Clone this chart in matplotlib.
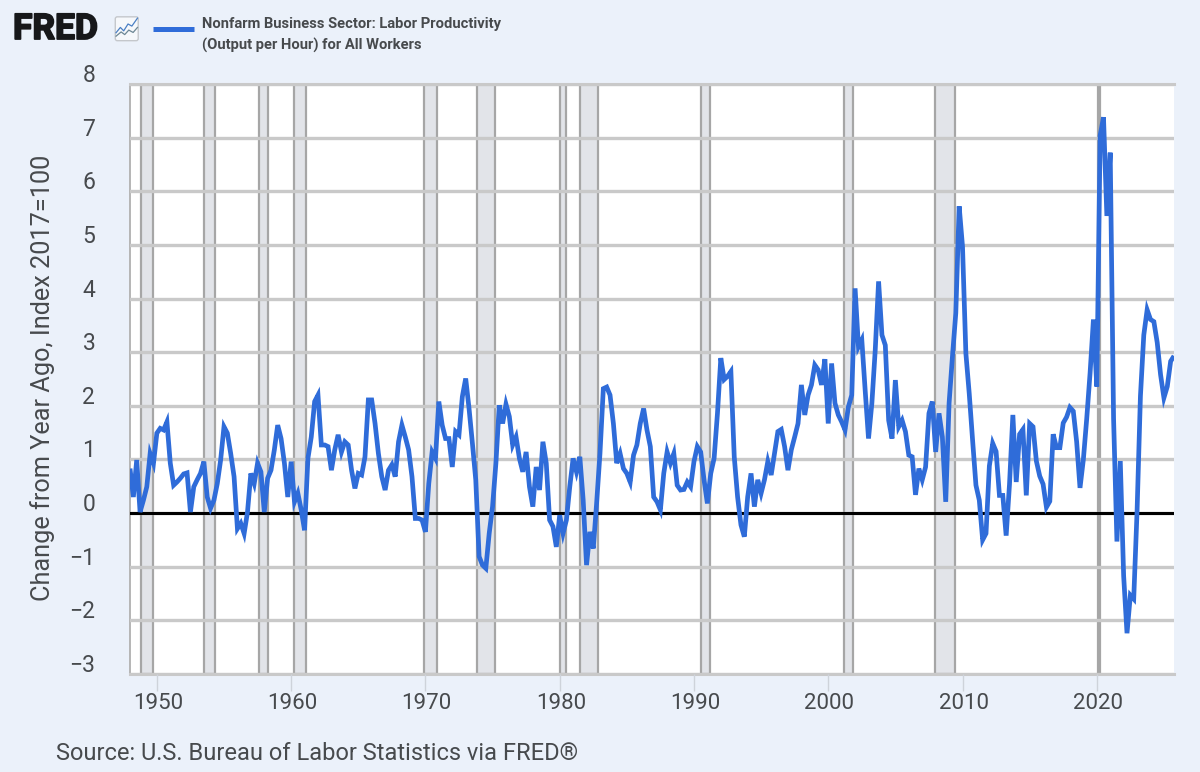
import numpy as np
import matplotlib
matplotlib.use("Agg")
import matplotlib.pyplot as plt
from matplotlib.patches import FancyBboxPatch
from matplotlib.transforms import ScaledTranslation
import matplotlib.patheffects as pe

START_YEAR = 1948

# Percent change from a year ago, one row per year, four quarters per row
productivity = [
    .83, .30, .99, .02,
    .24, .49, 1.11, .93,
    1.49, 1.58, 1.55, 1.70,
    .93, .52, .58, .65,
    .73, .75, .02, .49,
    .62, .74, .96, .30,
    .09, .24, .55, .99,
    1.61, 1.49, 1.11, .68,
    -.29, -.19, -.38, .02,
    .74, .55, .93, .77,
    .02, .65, .80, 1.18,
    1.64, 1.39, .93, .30,
    .96, .21, .37, .06,
    -.32, 1.02, 1.42, 2.08,
    2.20, 1.27, 1.27, 1.24,
    .80, 1.18, 1.46, 1.14,
    1.33, 1.27, .80, .46,
    .74, .71, 1.05, 2.11,
    2.11, 1.67, 1.11, .68,
    .43, .80, .90, .68,
    1.33, 1.64, 1.42, 1.18,
    .68, -.10, -.10, -.13,
    -.35, .55, 1.14, 1.02,
    2.08, 1.64, 1.39, 1.39,
    .86, 1.52, 1.46, 2.17,
    2.51, 1.95, 1.30, .62,
    -.81, -.97, -1.03, -.38,
    .12, .93, 2.01, 1.67,
    2.03, 1.80, 1.27, 1.42,
    1.02, .77, 1.14, .49,
    .12, .86, .43, 1.33,
    .93, -.13, -.25, -.63,
    -.04, -.38, -.13, .49,
    1.02, .77, 1.05, .24,
    -.97, -.35, -.66, .18,
    1.11, 2.32, 2.35, 2.20,
    1.67, .93, 1.11, .83,
    .74, .58, 1.08, 1.27,
    1.67, 1.95, 1.55, 1.24,
    .30, .21, .06, .74,
    1.14, .93, 1.11, .52,
    .43, .44, .58, .49,
    .96, 1.24, 1.14, .62,
    .18, .74, 1.02, 1.86,
    2.89, 2.49, 2.55, 2.64,
    1.05, .30, -.22, -.44,
    .30, .74, .12, .62,
    .37, .62, .96, .71,
    1.11, 1.52, 1.56, 1.24,
    .80, 1.18, 1.42, 1.67,
    2.39, 1.83, 2.20, 2.39,
    2.76, 2.67, 2.39, 2.87,
    1.67, 2.79, 2.05, 1.83,
    1.70, 1.55, 1.98, 2.20,
    4.19, 3.10, 3.23, 2.29,
    1.39, 2.05, 3.04, 4.32,
    3.32, 3.13, 1.73, 1.39,
    2.48, 1.61, 1.73, 1.52,
    1.08, 1.05, .34, .83,
    .62, .86, 1.86, 2.08,
    1.14, 1.86, 1.42, .21,
    2.05, 2.92, 3.73, 5.72,
    4.97, 2.98, 2.23, 1.36,
    .52, .24, -.50, -.38,
    .88, 1.30, 1.15, .33,
    .33, -.42, .54, 1.83,
    .58, 1.47, 1.56, .33,
    1.67, 1.61, .97, .69,
    .54, .11, .22, 1.47,
    1.22, 1.22, 1.68, 1.79,
    1.97, 1.90, 1.33, .47,
    1.00, 1.76, 2.61, 3.61,
    2.36, 7.04, 7.38, 5.54,
    6.72, 1.76, -.53, .97,
    -1.17, -2.24, -1.53, -1.60,
    .04, 2.18, 3.32, 3.79,
    3.61, 3.57, 3.18, 2.58,
    2.15, 2.36, 2.83, 2.93,
]

recession_starts = [1948.83, 1953.50, 1957.58, 1960.25, 1969.92, 1973.83,
                    1980.00, 1981.50, 1990.50, 2001.17, 2007.92, 2020.08]
recession_ends = [1949.75, 1954.33, 1958.25, 1961.08, 1970.83, 1975.17,
                  1980.50, 1982.83, 1991.17, 2001.83, 2009.42, 2020.25]

x_tick_years = [1950, 1960, 1970, 1980, 1990, 2000, 2010, 2020]
y_tick_values = [-3, -2, -1, 0, 1, 2, 3, 4, 5, 6, 7, 8]

series_label = ["Nonfarm Business Sector: Labor Productivity",
                "(Output per Hour) for All Workers"]
y_label = "Change from Year Ago, Index 2017=100"
source_label = "Source: U.S. Bureau of Labor Statistics via FRED®"

PAGE = "#ebf1fa"
TEXT = "#474a4d"
LINE = "#2f6cd9"
GRID = "#c9c9c9"
BAND = "#e2e4e9"
BAND_EDGE = "#a6a6a6"
W, H = 1200, 772

plt.rcParams["font.family"] = ["Roboto", "DejaVu Sans"]

fig = plt.figure(figsize=(W / 100, H / 100), dpi=100, facecolor=PAGE)
ax = fig.add_axes([130 / W, 1 - 674 / H, (1174 - 130) / W, (674 - 84) / H])
ax.set_facecolor("white")

quarters = START_YEAR + np.arange(len(productivity)) / 4
ax.set_xlim(START_YEAR, quarters[-1])
ax.set_ylim(-3, 8)

# Recession shading sits under the grid
for start, end in zip(recession_starts, recession_ends):
    ax.axvspan(start, end, facecolor=BAND, edgecolor=BAND_EDGE, linewidth=1.6, zorder=1)

ax.set_yticks(y_tick_values)
ax.set_xticks(x_tick_years)
ax.grid(axis="y", color=GRID, linewidth=2.4, zorder=2)
ax.set_axisbelow(False)
for line in ax.get_ygridlines():
    line.set_zorder(2)

ax.axhline(0, color="black", linewidth=2.2, zorder=3)
ax.plot(quarters, productivity, color=LINE, linewidth=3.4,
        solid_joinstyle="miter", solid_capstyle="butt", zorder=4)

for side in ("right",):
    ax.spines[side].set_visible(False)
ax.spines["left"].set_color("#b5b5b5")
ax.spines["left"].set_linewidth(1.4)
for side in ("top", "bottom"):
    ax.spines[side].set_color(GRID)
    ax.spines[side].set_linewidth(2.2)

ax.tick_params(axis="y", length=0, pad=25, labelsize=16.5, labelcolor=TEXT)
ax.tick_params(axis="x", length=12, width=1.0, color="#ced3da", pad=2,
               labelsize=16, labelcolor=TEXT)

# The value labels ride a little above their grid lines
raise_labels = ScaledTranslation(0, 11 / 100, fig.dpi_scale_trans)
for label in ax.get_yticklabels():
    label.set_transform(label.get_transform() + raise_labels)
nudge_right = ScaledTranslation(1.2 / 100, 0, fig.dpi_scale_trans)
for label in ax.get_xticklabels():
    label.set_transform(label.get_transform() + nudge_right)

fig.text(43 / W, 1 - 378 / H, y_label, rotation=90, ha="center", va="center",
         fontsize=18.2, color=TEXT)
fig.text(56 / W, 1 - 753 / H, source_label, ha="left", va="center",
         fontsize=17, color=TEXT)

# Legend: line sample and two-line series name
fig.add_artist(plt.Line2D([153 / W, 194 / W], [1 - 29 / H] * 2, color=LINE,
                          linewidth=3.6, solid_capstyle="butt"))
for row, text in enumerate(series_label):
    fig.text(202 / W, 1 - (24 + 21 * row) / H, text, ha="left", va="center",
             fontsize=10.6, fontweight="bold", color=TEXT)

# Wordmark
fig.text(13 / W, 1 - 29.5 / H, "FRED", ha="left", va="center", fontsize=25.5,
         fontweight="bold", color="#17181a",
         path_effects=[pe.withStroke(linewidth=1.3, foreground="#17181a")])

# Small chart icon beside the wordmark
icon = fig.add_axes([114 / W, 1 - 42 / H, 25.5 / W, 26.5 / H])
icon.set_xlim(0, 1)
icon.set_ylim(0, 1)
icon.axis("off")
icon.add_patch(FancyBboxPatch((0.05, 0.05), 0.9, 0.9, boxstyle="round,pad=0,rounding_size=0.08",
                              facecolor="#f6f8fb", edgecolor="#c4c7cb", linewidth=1.0))
icon.plot([.08, .25, .38, .55, .70, .92], [.35, .55, .42, .68, .60, .90],
          color="#4a7fc4", linewidth=0.9)
icon.plot([.08, .28, .42, .58, .75, .92], [.22, .38, .28, .45, .36, .55],
          color="#6d8794", linewidth=0.9)

fig.savefig("out.png", dpi=100, facecolor=PAGE)
